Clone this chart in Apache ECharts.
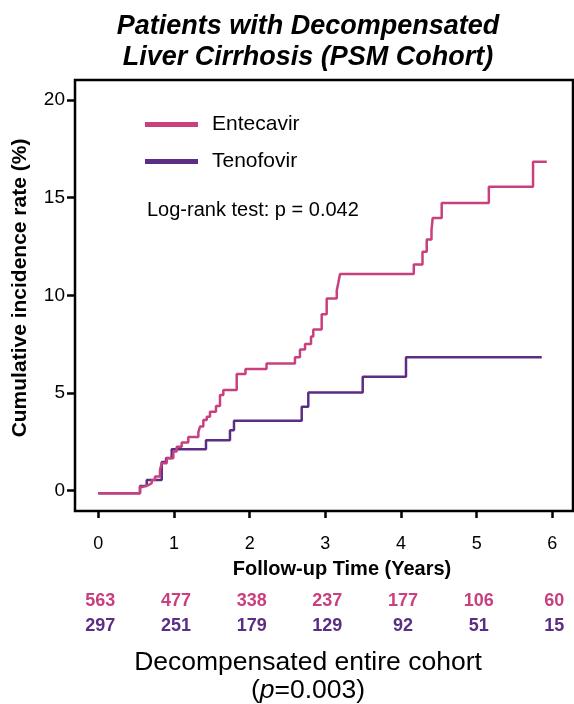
<!DOCTYPE html>
<html lang="en">
<head>
   <meta charset="UTF-8">
   <title>Patients with Decompensated Liver Cirrhosis (PSM Cohort)</title>
   <script src="https://cdnjs.cloudflare.com/ajax/libs/echarts/6.0.0/echarts.min.js"></script>
   <style>
      html, body { margin: 0; padding: 0; background: #fff; }
      #container { width: 574px; height: 704px; }
   </style>
</head>
<body>
   <div id="container"></div>
   <script>
      // cumulative incidence, [years, %] – value after each step
      var entecavir = [
         [0, -0.13], [0.551, 0.19], [0.578, 0.29], [0.661, 0.38], [0.706, 0.55], [0.749, 0.72],
         [0.815, 1.07], [0.838, 1.40], [0.904, 1.66], [0.991, 2.00], [1.036, 2.25], [1.102, 2.46],
         [1.189, 2.75], [1.322, 3.00], [1.344, 3.28], [1.388, 3.62], [1.433, 3.79], [1.476, 4.04],
         [1.555, 4.33], [1.608, 4.90], [1.652, 5.15], [1.829, 5.97], [1.945, 6.23], [2.223, 6.51],
         [2.599, 6.83], [2.665, 7.23], [2.732, 7.51], [2.811, 7.89], [2.841, 8.25], [2.952, 9.03],
         [3.018, 9.84], [3.151, 10.25], [3.172, 10.64], [3.194, 11.09], [4.169, 11.58], [4.284, 12.23],
         [4.340, 12.86], [4.403, 13.34], [4.419, 13.96], [4.538, 14.72], [5.161, 15.56], [5.745, 16.84],
         [5.926, 16.84]
      ];
      var tenofovir = [
         [0, -0.13], [0.551, 0.24], [0.640, 0.55], [0.838, 1.47], [0.895, 1.67], [0.970, 2.12],
         [1.423, 2.58], [1.740, 3.09], [1.793, 3.58], [2.688, 4.30], [2.775, 5.02], [3.494, 5.83],
         [4.066, 6.83], [5.860, 6.83]
      ];
      var xTicks = [0, 1, 2, 3, 4, 5, 6];
      var yTicks = [0, 5, 10, 15, 20];
      var riskTimes = [0, 1, 2, 3, 4, 5, 6];
      var riskEntecavir = [563, 477, 338, 237, 177, 106, 60];
      var riskTenofovir = [297, 251, 179, 129, 92, 51, 15];

      var pink = '#C8407E';
      var purple = '#5C2D84';
      var font = 'Liberation Sans, Arial, Helvetica, sans-serif';

      var myChart = echarts.init(document.getElementById('container'));

      var option = {
         animation: false,
         textStyle: { fontFamily: font },
         title: {
            text: 'Patients with Decompensated\nLiver Cirrhosis (PSM Cohort)',
            left: 308,
            top: 11,
            padding: 0,
            textAlign: 'center',
            textStyle: {
               fontFamily: font,
               fontSize: 27,
               fontWeight: 'bold',
               fontStyle: 'italic',
               lineHeight: 31,
               color: '#000'
            }
         },
         legend: {
            data: ['Entecavir', 'Tenofovir'],
            orient: 'vertical',
            left: 145,
            top: 114,
            padding: 0,
            icon: 'rect',
            itemWidth: 53,
            itemHeight: 5,
            itemGap: 16,
            textStyle: { fontFamily: font, fontSize: 21, color: '#000', padding: [0, 0, 0, 9] }
         },
         grid: {
            left: 75,
            right: 1,
            top: 80,
            bottom: 193,
            show: true,
            borderColor: '#000',
            borderWidth: 2.5
         },
         xAxis: {
            type: 'value',
            min: -0.308,
            max: 6.273,
            axisLine: { show: false, onZero: false },
            splitLine: { show: false },
            axisTick: { show: true, length: 7, lineStyle: { color: '#000', width: 2.5 }, customValues: xTicks },
            axisLabel: { color: '#000', fontSize: 18, margin: 24, customValues: xTicks }
         },
         yAxis: {
            type: 'value',
            min: -1.04,
            max: 21.02,
            axisLine: { show: false, onZero: false },
            splitLine: { show: false },
            axisTick: { show: true, length: 8, lineStyle: { color: '#000', width: 2.5 }, customValues: yTicks },
            axisLabel: { color: '#000', fontSize: 19, margin: 10, customValues: yTicks }
         },
         series: [
            {
               name: 'Entecavir',
               type: 'line',
               step: 'end',
               showSymbol: false,
               color: pink,
               lineStyle: { color: pink, width: 2.5 },
               data: entecavir,
               z: 3
            },
            {
               name: 'Tenofovir',
               type: 'line',
               step: 'end',
               showSymbol: false,
               color: purple,
               lineStyle: { color: purple, width: 2.5 },
               data: tenofovir,
               z: 2
            }
         ]
      };

      myChart.setOption(option);

      // texts outside the plot: axis names, test result, numbers at risk, footer
      var graphics = [
         {
            type: 'text', x: 20, y: 288, rotation: Math.PI / 2,
            style: {
               text: 'Cumulative incidence rate (%)', font: 'bold 21px ' + font,
               fill: '#000', textAlign: 'center', textVerticalAlign: 'middle'
            }
         },
         {
            type: 'text', x: 342, y: 569,
            style: {
               text: 'Follow-up Time (Years)', font: 'bold 20px ' + font,
               fill: '#000', textAlign: 'center', textVerticalAlign: 'middle'
            }
         },
         {
            type: 'text', x: 147, y: 210,
            style: {
               text: 'Log-rank test: p = 0.042', font: '20px ' + font,
               fill: '#000', textAlign: 'left', textVerticalAlign: 'middle'
            }
         },
         {
            type: 'text', x: 308, y: 663,
            style: {
               text: 'Decompensated entire cohort', font: '26.5px ' + font,
               fill: '#000', textAlign: 'center', textVerticalAlign: 'middle'
            }
         },
         {
            type: 'text', x: 308, y: 691,
            style: {
               text: '{n|(}{i|p}{n|=0.003)}',
               textAlign: 'center', textVerticalAlign: 'middle',
               rich: {
                  n: { fontFamily: font, fontSize: 26.5, fill: '#000' },
                  i: { fontFamily: font, fontSize: 26.5, fontStyle: 'italic', fill: '#000' }
               }
            }
         }
      ];

      riskTimes.forEach(function (t, i) {
         var px = myChart.convertToPixel({ xAxisIndex: 0 }, t) + 2;
         graphics.push({
            type: 'text', x: px, y: 601,
            style: {
               text: String(riskEntecavir[i]), font: 'bold 18px ' + font,
               fill: pink, textAlign: 'center', textVerticalAlign: 'middle'
            }
         });
         graphics.push({
            type: 'text', x: px, y: 626,
            style: {
               text: String(riskTenofovir[i]), font: 'bold 18px ' + font,
               fill: purple, textAlign: 'center', textVerticalAlign: 'middle'
            }
         });
      });

      myChart.setOption({ graphic: graphics });
   </script>
</body>
</html>
